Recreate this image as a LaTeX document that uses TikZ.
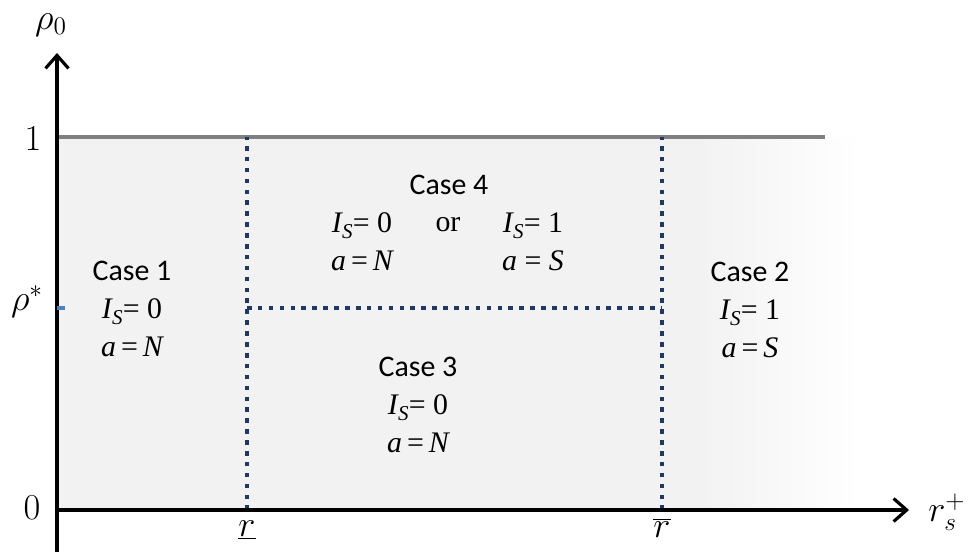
\documentclass[tikz,border=0pt]{standalone}
\usepackage{fontspec}
\usepackage{tikz}
\usetikzlibrary{arrows.meta,positioning}
\newfontfamily\timesfont{Liberation Serif}
\newfontfamily\casefont{Carlito}
\definecolor{regiongray}{RGB}{242,242,242}
\definecolor{linegray}{RGB}{128,128,128}
\definecolor{dotblue}{RGB}{31,56,100}
\definecolor{tickblue}{RGB}{79,129,189}
\newcommand{\Is}{\textit{I}\kern-0.5pt\raisebox{-0.4ex}{\fontsize{12}{12}\selectfont\textit{S}}}

\begin{document}
\begin{tikzpicture}[x=0.02cm,y=-0.02cm,>={Straight Barb[length=2.6mm,width=4.6mm]},every node/.style={inner sep=0pt}]
\tikzstyle{casebox}=[align=center,font=\fontsize{17}{21.5}\selectfont]
\tikzstyle{axlabel}=[font=\fontsize{22}{26}\selectfont]
\tikzstyle{border}=[dotblue,line width=2.6pt,dash pattern=on 2.6pt off 3.6pt]
\useasboundingbox (0,0) rectangle (971,558);
\coordinate (O) at (57,510);
\coordinate (ytop) at (57,53);
\coordinate (ybot) at (57,552);
\coordinate (xend) at (909,510);
\coordinate (one) at (57,137);
\coordinate (oneend) at (825,137);
\coordinate (rlow) at (247,510);
\coordinate (rlowtop) at (247,137);
\coordinate (rhigh) at (662,510);
\coordinate (rhightop) at (662,137);
\coordinate (midl) at (247,308);
\coordinate (midr) at (662,308);
\coordinate (rhostar) at (57,308);
\coordinate (tickend) at (65,308);
\fill[regiongray] (one) rectangle (702,510);
\shade[left color=regiongray,right color=white] (700,137) rectangle (860,510);
\draw[linegray,line width=2pt] (one) -- (oneend);
\draw[border] (rlow) -- (rlowtop);
\draw[border] (rhigh) -- (rhightop);
\draw[border] (midl) -- (midr);
\draw[->,line width=1.8pt] (ybot) -- (ytop);
\draw[->,line width=1.8pt] (O) -- (xend);
\draw[tickblue,line width=2.5pt] (rhostar) -- (tickend);
\node[axlabel] (rho0) at (51,25) {$\rho_0$};
\node[axlabel] (lone) at (33,139) {$1$};
\node[axlabel] (lzero) at (32,508) {$0$};
\node[axlabel] (lstar) at (27,302) {$\rho^*$};
\node[axlabel] (lrlow) at (247,530) {$\underline{r}$};
\node[axlabel] (lrhigh) at (662,528) {$\overline{r}$};
\node[axlabel] (lrs) at (947,512) {$r_s^+$};
\node[casebox] (case1) at (132,309) {{\casefont Case 1}\\{\timesfont\Is= 0}\\{\timesfont\itshape a\,\upshape=\,\itshape N}};
\node[casebox] (case2) at (750,310) {{\casefont Case 2}\\{\timesfont\Is= 1}\\{\timesfont\itshape a\,\upshape=\,\itshape S}};
\node[casebox] (case3) at (418,405) {{\casefont Case 3}\\{\timesfont\Is= 0}\\{\timesfont\itshape a\,\upshape=\,\itshape N}};
\node[casebox] (case4) at (449,185) {\casefont Case 4};
\node[casebox] (case4a) at (362,242) {{\timesfont\Is= 0}\\{\timesfont\itshape a\,\upshape=\,\itshape N}};
\node[casebox] (case4or) at (448,225) {\timesfont or};
\node[casebox] (case4b) at (533,242) {{\timesfont\Is= 1}\\{\timesfont\itshape a \upshape= \itshape S}};
\end{tikzpicture}
\end{document}
